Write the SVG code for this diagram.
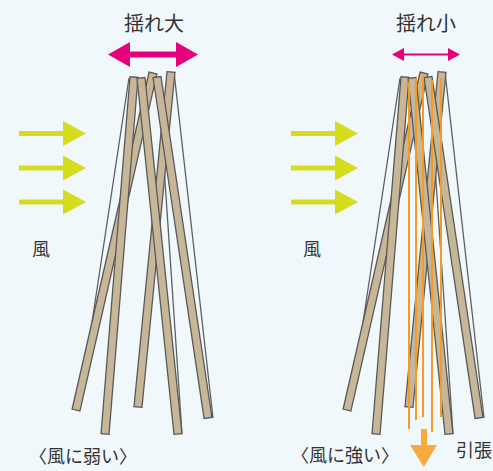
<svg xmlns="http://www.w3.org/2000/svg" width="493" height="471" viewBox="0 0 493 471">
  <style>
    .bg { fill: #f1f8fc; }
    .bar { fill: #c8b698; stroke: #595959; stroke-width: 1.3; }
    .thin { stroke: #5f5f5f; stroke-width: 1.3; fill: none; }
    .cable { stroke: #f59a22; stroke-width: 2; fill: none; }
    .wind { fill: #d5dc1e; }
    .sway { fill: #e6007e; }
    .pull { fill: #f9aa3c; }
    .lbl { font-family: "Noto Sans CJK JP", "Noto Sans", sans-serif; fill: #333333; }
  </style>
  <defs>
    <!-- wind arrow, drawn with its tip at (0,0) pointing right -->
    <path id="windArrow" class="wind" d="M-67,-2.5 H-23 V-12.5 L0,0 L-23,12.5 V2.5 H-67 Z"/>
    <!-- one tower of leaning sticks, tops near y=72..78 -->
    <g id="tower">
      <line class="thin" x1="129" y1="78" x2="79" y2="408"/>
      <line class="thin" x1="158" y1="77" x2="182" y2="434"/>
      <line class="thin" x1="174" y1="72" x2="213" y2="418"/>
      <rect class="bar" x="-4" y="0" width="8" height="345.7" transform="translate(153,73) rotate(12.87)"/>
      <rect class="bar" x="-4" y="0" width="8" height="336.6" transform="translate(171,72) rotate(5.63)"/>
      <rect class="bar" x="-4" y="0" width="8" height="344.8" transform="translate(157,77) rotate(-8.51)"/>
      <rect class="bar" x="-4" y="0" width="8" height="358.2" transform="translate(134,77) rotate(4.64)"/>
      <rect class="bar" x="-4" y="0" width="8" height="357.9" transform="translate(141,78) rotate(-5.93)"/>
    </g>
  </defs>

  <rect class="bg" x="0" y="0" width="493" height="471"/>

  <!-- weak tower -->
  <g id="tower-weak">
    <use href="#tower"/>
  </g>

  <!-- strong tower with tension cables -->
  <g id="tower-strong">
    <use href="#tower" transform="translate(271,0)"/>
    <g id="cables">
      <line class="cable" x1="409" y1="82" x2="409" y2="429"/>
      <line class="cable" x1="416" y1="78" x2="416" y2="420"/>
      <line class="cable" x1="423" y1="75" x2="423" y2="417"/>
      <line class="cable" x1="432" y1="80" x2="432" y2="432"/>
      <line class="cable" x1="441" y1="78" x2="441" y2="417"/>
    </g>
  </g>

  <!-- arrows -->
  <g id="connectors">
    <use href="#windArrow" transform="translate(86,133.5)"/>
    <use href="#windArrow" transform="translate(86,168)"/>
    <use href="#windArrow" transform="translate(86,202)"/>
    <use href="#windArrow" transform="translate(358,133.5)"/>
    <use href="#windArrow" transform="translate(358,168)"/>
    <use href="#windArrow" transform="translate(358,202)"/>
    <path class="sway" d="M108,54.5 L130,42 V51.5 H176 V42 L198,54.5 L176,67 V57.5 H130 V67 Z"/>
    <path class="sway" d="M392,54.5 L404,48 V53.5 H448 V48 L460,54.5 L448,61 V55.5 H404 V61 Z"/>
    <path class="pull" d="M421,429 H427 V445 H437 L423.8,467 L410,445 H421 Z"/>
  </g>

  <!-- labels -->
  <g id="labels">
    <text class="lbl" x="154" y="31" font-size="20" text-anchor="middle">揺れ大</text>
    <text class="lbl" x="426" y="31" font-size="20" text-anchor="middle">揺れ小</text>
    <text class="lbl" x="32" y="256" font-size="18">風</text>
    <text class="lbl" x="303" y="256" font-size="18">風</text>
    <text class="lbl" x="29" y="463" font-size="18">〈風に弱い〉</text>
    <text class="lbl" x="291" y="462" font-size="18">〈風に強い〉</text>
    <text class="lbl" x="456" y="457" font-size="18">引張</text>
  </g>
</svg>
